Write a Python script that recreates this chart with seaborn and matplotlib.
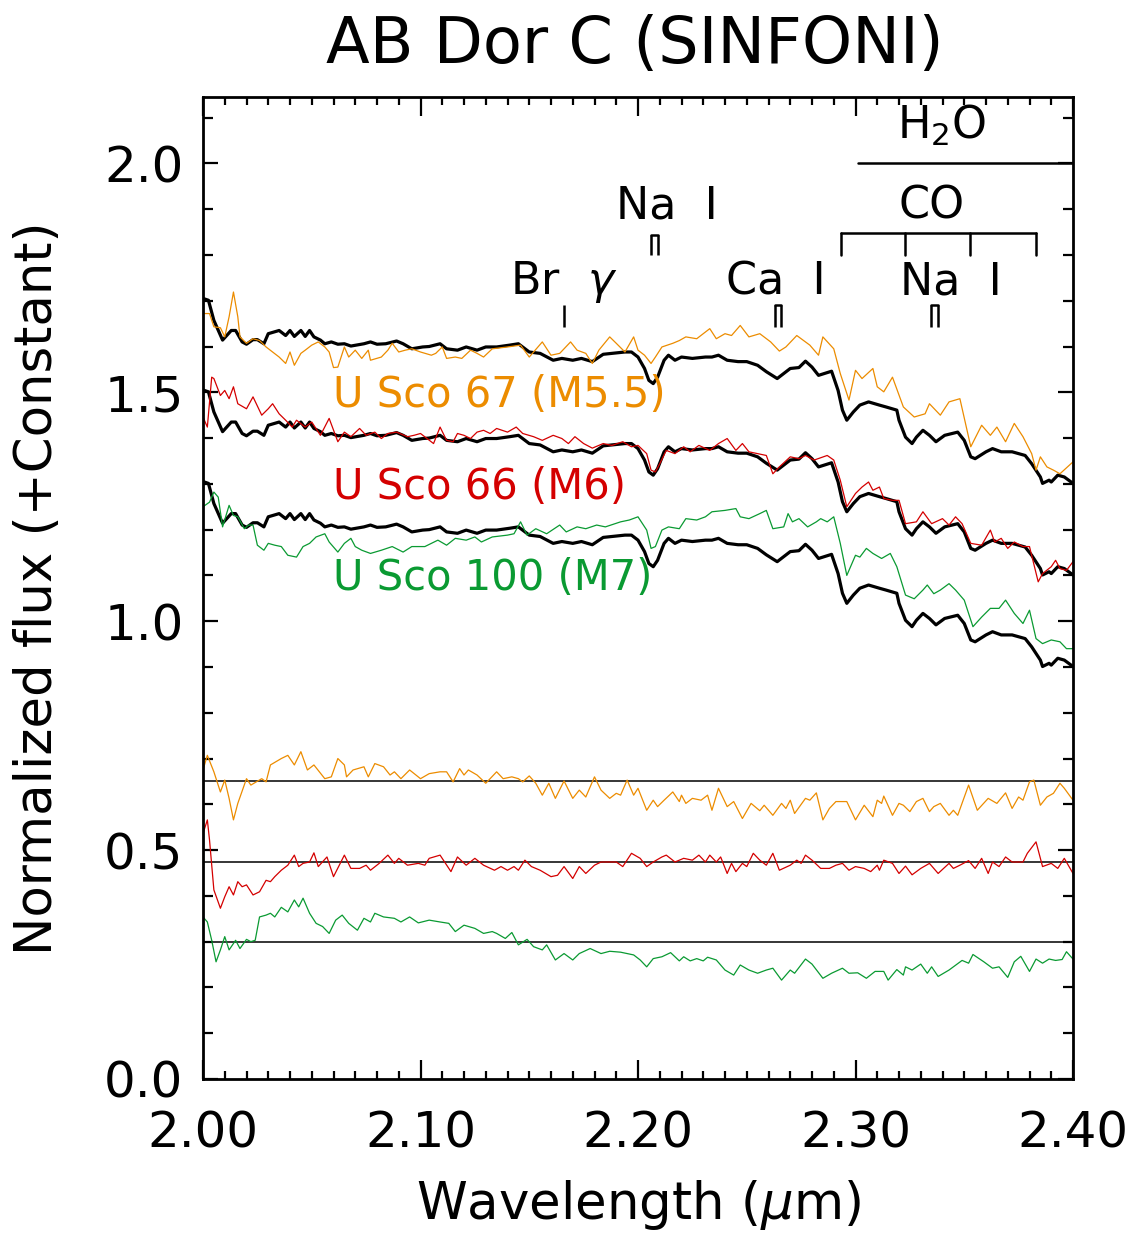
import matplotlib
matplotlib.use("Agg")
import matplotlib.pyplot as plt
from matplotlib.ticker import MultipleLocator, FormatStrFormatter
import seaborn as sns

# AB Dor C spectrum (top copy)
abdor_wl = [2.000, 2.0025, 2.005, 2.009, 2.013, 2.015, 2.018, 2.020, 2.023, 2.025,
            2.028, 2.030, 2.035, 2.038, 2.040, 2.042, 2.045, 2.047, 2.049, 2.051,
            2.054, 2.056, 2.059, 2.062, 2.065, 2.068, 2.074, 2.077, 2.080, 2.084,
            2.089, 2.092, 2.096, 2.101, 2.104, 2.109, 2.112, 2.117, 2.121, 2.126,
            2.130, 2.135, 2.141, 2.145, 2.150, 2.155, 2.161, 2.165, 2.170, 2.174,
            2.179, 2.184, 2.188, 2.194, 2.197, 2.200, 2.203, 2.205, 2.207, 2.209,
            2.212, 2.214, 2.217, 2.220, 2.225, 2.231, 2.234, 2.237, 2.241, 2.246,
            2.250, 2.255, 2.259, 2.264, 2.270, 2.274, 2.277, 2.280, 2.283, 2.289,
            2.292, 2.294, 2.296, 2.299, 2.302, 2.306, 2.311, 2.314, 2.319, 2.320,
            2.323, 2.326, 2.328, 2.331, 2.334, 2.337, 2.341, 2.347, 2.350, 2.353,
            2.355, 2.360, 2.363, 2.367, 2.372, 2.378, 2.381, 2.385, 2.386, 2.389,
            2.390, 2.393, 2.396, 2.400]
abdor_flux = [1.705, 1.701, 1.657, 1.614, 1.635, 1.635, 1.610, 1.605, 1.615, 1.615,
              1.606, 1.628, 1.635, 1.624, 1.635, 1.622, 1.635, 1.622, 1.635, 1.621,
              1.614, 1.606, 1.610, 1.605, 1.606, 1.601, 1.606, 1.610, 1.605, 1.606,
              1.612, 1.606, 1.595, 1.599, 1.600, 1.606, 1.595, 1.592, 1.599, 1.592,
              1.599, 1.599, 1.603, 1.606, 1.588, 1.585, 1.570, 1.574, 1.570, 1.574,
              1.567, 1.583, 1.585, 1.588, 1.588, 1.577, 1.552, 1.526, 1.519, 1.533,
              1.570, 1.581, 1.570, 1.577, 1.574, 1.577, 1.577, 1.581, 1.570, 1.567,
              1.567, 1.559, 1.545, 1.530, 1.552, 1.554, 1.568, 1.555, 1.537, 1.546,
              1.504, 1.461, 1.439, 1.457, 1.472, 1.479, 1.472, 1.468, 1.461, 1.439,
              1.402, 1.388, 1.402, 1.417, 1.406, 1.392, 1.406, 1.413, 1.395, 1.359,
              1.355, 1.370, 1.377, 1.370, 1.370, 1.362, 1.344, 1.315, 1.301, 1.308,
              1.304, 1.319, 1.315, 1.301]
abdor_offsets = [0.0, -0.2, -0.4]

# U Sco 67 (M5.5)
usco67_wl = [2.000, 2.003, 2.005, 2.008, 2.010, 2.012, 2.014, 2.016, 2.017, 2.020,
             2.023, 2.026, 2.029, 2.032, 2.035, 2.038, 2.040, 2.042, 2.045, 2.047,
             2.050, 2.053, 2.056, 2.058, 2.060, 2.062, 2.065, 2.067, 2.070, 2.073,
             2.076, 2.077, 2.082, 2.085, 2.087, 2.090, 2.093, 2.096, 2.100, 2.105,
             2.107, 2.110, 2.112, 2.116, 2.119, 2.123, 2.126, 2.129, 2.133, 2.140,
             2.146, 2.150, 2.156, 2.160, 2.164, 2.169, 2.172, 2.176, 2.179, 2.182,
             2.187, 2.190, 2.194, 2.198, 2.200, 2.203, 2.206, 2.208, 2.211, 2.216,
             2.219, 2.222, 2.227, 2.233, 2.236, 2.240, 2.243, 2.247, 2.251, 2.256,
             2.261, 2.265, 2.268, 2.273, 2.279, 2.283, 2.285, 2.290, 2.293, 2.297,
             2.300, 2.303, 2.308, 2.310, 2.313, 2.317, 2.322, 2.327, 2.332, 2.334,
             2.339, 2.343, 2.348, 2.353, 2.358, 2.362, 2.365, 2.369, 2.373, 2.377,
             2.381, 2.383, 2.385, 2.388, 2.391, 2.394, 2.400]
usco67_flux = [1.672, 1.672, 1.643, 1.641, 1.621, 1.665, 1.719, 1.665, 1.621, 1.607,
               1.617, 1.613, 1.599, 1.588, 1.577, 1.563, 1.588, 1.559, 1.585, 1.592,
               1.603, 1.610, 1.599, 1.588, 1.554, 1.555, 1.599, 1.577, 1.592, 1.574,
               1.592, 1.570, 1.577, 1.592, 1.607, 1.588, 1.592, 1.595, 1.588, 1.581,
               1.585, 1.599, 1.574, 1.577, 1.574, 1.592, 1.585, 1.577, 1.595, 1.599,
               1.603, 1.577, 1.610, 1.581, 1.585, 1.610, 1.592, 1.585, 1.563, 1.592,
               1.621, 1.607, 1.588, 1.621, 1.592, 1.581, 1.563, 1.577, 1.599, 1.607,
               1.613, 1.621, 1.617, 1.639, 1.617, 1.628, 1.624, 1.646, 1.621, 1.628,
               1.610, 1.590, 1.599, 1.624, 1.603, 1.581, 1.621, 1.595, 1.541, 1.483,
               1.548, 1.530, 1.552, 1.512, 1.501, 1.533, 1.468, 1.446, 1.453, 1.475,
               1.450, 1.479, 1.486, 1.381, 1.428, 1.406, 1.424, 1.392, 1.432, 1.403,
               1.366, 1.330, 1.359, 1.337, 1.330, 1.322, 1.348]

# U Sco 66 (M6)
usco66_wl = [2.000, 2.002, 2.004, 2.005, 2.008, 2.010, 2.012, 2.014, 2.016, 2.020,
             2.023, 2.027, 2.030, 2.032, 2.035, 2.038, 2.041, 2.043, 2.047, 2.050,
             2.054, 2.058, 2.062, 2.065, 2.068, 2.072, 2.075, 2.079, 2.082, 2.085,
             2.089, 2.094, 2.097, 2.100, 2.103, 2.106, 2.109, 2.112, 2.115, 2.117,
             2.120, 2.123, 2.126, 2.129, 2.132, 2.135, 2.140, 2.144, 2.147, 2.152,
             2.156, 2.161, 2.165, 2.168, 2.171, 2.175, 2.179, 2.184, 2.188, 2.193,
             2.197, 2.200, 2.204, 2.206, 2.208, 2.210, 2.213, 2.217, 2.221, 2.224,
             2.228, 2.233, 2.237, 2.241, 2.245, 2.248, 2.251, 2.256, 2.259, 2.262,
             2.265, 2.270, 2.274, 2.277, 2.281, 2.287, 2.290, 2.293, 2.296, 2.300,
             2.303, 2.306, 2.308, 2.311, 2.313, 2.317, 2.320, 2.323, 2.328, 2.331,
             2.335, 2.340, 2.343, 2.346, 2.349, 2.353, 2.358, 2.362, 2.364, 2.367,
             2.370, 2.373, 2.377, 2.380, 2.384, 2.386, 2.390, 2.392, 2.394, 2.397,
             2.400]
usco66_flux = [1.446, 1.424, 1.533, 1.530, 1.493, 1.504, 1.486, 1.512, 1.475, 1.464,
               1.490, 1.450, 1.464, 1.475, 1.453, 1.439, 1.424, 1.439, 1.424, 1.435,
               1.406, 1.443, 1.392, 1.413, 1.403, 1.421, 1.406, 1.413, 1.399, 1.410,
               1.413, 1.403, 1.406, 1.410, 1.399, 1.388, 1.424, 1.395, 1.392, 1.410,
               1.406, 1.399, 1.413, 1.417, 1.410, 1.421, 1.413, 1.424, 1.410, 1.403,
               1.395, 1.406, 1.399, 1.388, 1.403, 1.388, 1.378, 1.388, 1.384, 1.392,
               1.381, 1.384, 1.366, 1.330, 1.326, 1.344, 1.373, 1.366, 1.381, 1.370,
               1.384, 1.373, 1.388, 1.399, 1.373, 1.388, 1.370, 1.365, 1.362, 1.322,
               1.337, 1.359, 1.355, 1.362, 1.352, 1.362, 1.352, 1.308, 1.250, 1.279,
               1.293, 1.304, 1.286, 1.293, 1.268, 1.264, 1.264, 1.213, 1.217, 1.239,
               1.213, 1.224, 1.210, 1.228, 1.213, 1.170, 1.166, 1.199, 1.173, 1.181,
               1.159, 1.173, 1.163, 1.163, 1.086, 1.104, 1.119, 1.133, 1.115, 1.111,
               1.130]

# U Sco 100 (M7)
usco100_wl = [2.000, 2.003, 2.005, 2.007, 2.009, 2.012, 2.014, 2.016, 2.019, 2.021,
              2.023, 2.025, 2.028, 2.030, 2.033, 2.036, 2.039, 2.043, 2.046, 2.049,
              2.052, 2.056, 2.058, 2.062, 2.065, 2.068, 2.070, 2.073, 2.077, 2.082,
              2.087, 2.092, 2.096, 2.102, 2.108, 2.112, 2.116, 2.121, 2.125, 2.128,
              2.133, 2.140, 2.143, 2.146, 2.149, 2.153, 2.158, 2.164, 2.167, 2.172,
              2.176, 2.181, 2.185, 2.192, 2.196, 2.200, 2.204, 2.206, 2.208, 2.211,
              2.214, 2.219, 2.222, 2.227, 2.231, 2.234, 2.240, 2.245, 2.247, 2.251,
              2.256, 2.259, 2.262, 2.267, 2.269, 2.271, 2.274, 2.278, 2.282, 2.284,
              2.287, 2.290, 2.293, 2.296, 2.300, 2.302, 2.305, 2.308, 2.312, 2.316,
              2.319, 2.323, 2.327, 2.331, 2.333, 2.336, 2.339, 2.343, 2.346, 2.350,
              2.354, 2.358, 2.362, 2.366, 2.369, 2.373, 2.377, 2.380, 2.383, 2.386,
              2.390, 2.394, 2.397, 2.400]
usco100_flux = [1.250, 1.260, 1.282, 1.271, 1.206, 1.253, 1.231, 1.228, 1.202, 1.210,
                1.210, 1.166, 1.155, 1.170, 1.166, 1.163, 1.144, 1.140, 1.163, 1.170,
                1.184, 1.191, 1.173, 1.151, 1.170, 1.181, 1.163, 1.155, 1.148, 1.155,
                1.163, 1.151, 1.163, 1.163, 1.177, 1.166, 1.181, 1.177, 1.184, 1.173,
                1.184, 1.188, 1.191, 1.217, 1.188, 1.202, 1.191, 1.210, 1.195, 1.206,
                1.202, 1.210, 1.206, 1.217, 1.221, 1.228, 1.199, 1.159, 1.163, 1.199,
                1.206, 1.202, 1.224, 1.221, 1.228, 1.239, 1.242, 1.246, 1.228, 1.224,
                1.235, 1.242, 1.202, 1.206, 1.235, 1.217, 1.224, 1.206, 1.217, 1.224,
                1.217, 1.228, 1.170, 1.100, 1.144, 1.140, 1.159, 1.148, 1.137, 1.148,
                1.119, 1.057, 1.049, 1.068, 1.079, 1.060, 1.068, 1.082, 1.068, 1.046,
                0.988, 1.009, 1.028, 1.028, 1.046, 1.017, 0.995, 1.024, 0.962, 0.951,
                0.959, 0.955, 0.940, 0.940]

# residuals (AB Dor C - template + constant)
resid67_wl = [2.000, 2.002, 2.005, 2.008, 2.010, 2.012, 2.014, 2.016, 2.020, 2.022,
              2.027, 2.029, 2.031, 2.036, 2.039, 2.042, 2.045, 2.048, 2.051, 2.056,
              2.059, 2.062, 2.065, 2.066, 2.069, 2.074, 2.076, 2.079, 2.083, 2.086,
              2.088, 2.091, 2.095, 2.100, 2.104, 2.109, 2.112, 2.115, 2.118, 2.120,
              2.122, 2.126, 2.130, 2.135, 2.138, 2.142, 2.145, 2.147, 2.150, 2.153,
              2.156, 2.159, 2.162, 2.166, 2.170, 2.173, 2.176, 2.180, 2.183, 2.187,
              2.190, 2.192, 2.195, 2.198, 2.200, 2.204, 2.207, 2.209, 2.212, 2.216,
              2.219, 2.220, 2.222, 2.225, 2.229, 2.232, 2.234, 2.237, 2.241, 2.244,
              2.248, 2.252, 2.256, 2.258, 2.262, 2.266, 2.268, 2.270, 2.272, 2.277,
              2.279, 2.282, 2.285, 2.288, 2.291, 2.296, 2.300, 2.304, 2.308, 2.310,
              2.312, 2.313, 2.317, 2.320, 2.322, 2.325, 2.328, 2.331, 2.334, 2.336,
              2.339, 2.343, 2.345, 2.347, 2.352, 2.356, 2.361, 2.365, 2.369, 2.372,
              2.375, 2.377, 2.380, 2.382, 2.385, 2.388, 2.391, 2.394, 2.396, 2.400]
resid67_flux = [0.675, 0.707, 0.671, 0.627, 0.653, 0.613, 0.566, 0.602, 0.656, 0.642,
                0.656, 0.649, 0.686, 0.700, 0.707, 0.686, 0.715, 0.675, 0.686, 0.656,
                0.660, 0.700, 0.686, 0.660, 0.675, 0.682, 0.660, 0.689, 0.682, 0.664,
                0.671, 0.656, 0.675, 0.656, 0.667, 0.671, 0.671, 0.649, 0.678, 0.664,
                0.675, 0.664, 0.646, 0.671, 0.656, 0.660, 0.656, 0.649, 0.662, 0.646,
                0.620, 0.646, 0.613, 0.651, 0.613, 0.631, 0.616, 0.660, 0.631, 0.613,
                0.624, 0.620, 0.653, 0.620, 0.635, 0.587, 0.609, 0.595, 0.609, 0.627,
                0.606, 0.620, 0.602, 0.613, 0.609, 0.620, 0.587, 0.635, 0.595, 0.606,
                0.569, 0.602, 0.586, 0.598, 0.576, 0.602, 0.591, 0.609, 0.580, 0.613,
                0.609, 0.625, 0.566, 0.591, 0.606, 0.606, 0.566, 0.598, 0.573, 0.609,
                0.602, 0.618, 0.576, 0.602, 0.598, 0.584, 0.606, 0.613, 0.584, 0.595,
                0.602, 0.576, 0.587, 0.576, 0.642, 0.587, 0.613, 0.602, 0.625, 0.591,
                0.616, 0.609, 0.649, 0.653, 0.598, 0.616, 0.624, 0.646, 0.635, 0.609]

resid66_wl = [2.000, 2.002, 2.003, 2.005, 2.008, 2.010, 2.012, 2.014, 2.016, 2.018,
              2.020, 2.023, 2.026, 2.029, 2.031, 2.033, 2.036, 2.039, 2.042, 2.044,
              2.046, 2.049, 2.051, 2.053, 2.057, 2.060, 2.065, 2.068, 2.072, 2.075,
              2.077, 2.081, 2.085, 2.088, 2.090, 2.094, 2.099, 2.102, 2.104, 2.109,
              2.114, 2.117, 2.121, 2.125, 2.129, 2.134, 2.137, 2.140, 2.143, 2.145,
              2.148, 2.151, 2.155, 2.160, 2.163, 2.166, 2.170, 2.173, 2.176, 2.180,
              2.183, 2.187, 2.190, 2.193, 2.197, 2.201, 2.204, 2.207, 2.211, 2.213,
              2.217, 2.221, 2.225, 2.228, 2.231, 2.233, 2.236, 2.238, 2.241, 2.243,
              2.245, 2.248, 2.250, 2.253, 2.256, 2.259, 2.262, 2.265, 2.270, 2.273,
              2.275, 2.277, 2.280, 2.284, 2.288, 2.291, 2.294, 2.297, 2.300, 2.304,
              2.307, 2.310, 2.311, 2.313, 2.317, 2.320, 2.323, 2.326, 2.330, 2.334,
              2.338, 2.343, 2.345, 2.348, 2.352, 2.355, 2.358, 2.361, 2.363, 2.366,
              2.369, 2.372, 2.377, 2.379, 2.383, 2.386, 2.390, 2.393, 2.396, 2.400]
resid66_flux = [0.536, 0.566, 0.522, 0.413, 0.373, 0.398, 0.420, 0.402, 0.431, 0.420,
                0.424, 0.402, 0.409, 0.434, 0.431, 0.442, 0.456, 0.467, 0.489, 0.464,
                0.471, 0.474, 0.494, 0.464, 0.485, 0.442, 0.489, 0.460, 0.460, 0.467,
                0.456, 0.471, 0.489, 0.471, 0.482, 0.467, 0.471, 0.467, 0.482, 0.489,
                0.453, 0.485, 0.467, 0.482, 0.467, 0.456, 0.464, 0.456, 0.464, 0.456,
                0.478, 0.464, 0.456, 0.442, 0.445, 0.464, 0.438, 0.464, 0.449, 0.467,
                0.474, 0.474, 0.474, 0.464, 0.493, 0.482, 0.464, 0.474, 0.485, 0.489,
                0.474, 0.482, 0.478, 0.489, 0.474, 0.489, 0.474, 0.485, 0.449, 0.471,
                0.453, 0.471, 0.464, 0.493, 0.478, 0.467, 0.493, 0.456, 0.467, 0.478,
                0.471, 0.489, 0.478, 0.460, 0.460, 0.467, 0.471, 0.456, 0.464, 0.460,
                0.453, 0.467, 0.456, 0.478, 0.471, 0.449, 0.465, 0.446, 0.460, 0.471,
                0.449, 0.471, 0.460, 0.467, 0.477, 0.460, 0.482, 0.449, 0.474, 0.464,
                0.485, 0.474, 0.474, 0.493, 0.518, 0.464, 0.471, 0.460, 0.482, 0.449]

resid100_wl = [2.000, 2.002, 2.004, 2.006, 2.008, 2.010, 2.012, 2.015, 2.017, 2.020,
               2.022, 2.024, 2.026, 2.029, 2.031, 2.033, 2.036, 2.039, 2.042, 2.044,
               2.046, 2.049, 2.052, 2.055, 2.058, 2.061, 2.064, 2.067, 2.071, 2.074,
               2.077, 2.079, 2.083, 2.088, 2.091, 2.095, 2.099, 2.104, 2.109, 2.113,
               2.116, 2.120, 2.125, 2.129, 2.133, 2.135, 2.139, 2.142, 2.145, 2.149,
               2.152, 2.156, 2.158, 2.162, 2.166, 2.170, 2.173, 2.178, 2.183, 2.187,
               2.192, 2.198, 2.201, 2.204, 2.207, 2.211, 2.215, 2.219, 2.221, 2.224,
               2.227, 2.230, 2.232, 2.236, 2.240, 2.244, 2.247, 2.251, 2.255, 2.259,
               2.262, 2.266, 2.270, 2.272, 2.277, 2.280, 2.285, 2.289, 2.294, 2.297,
               2.301, 2.305, 2.309, 2.313, 2.315, 2.319, 2.322, 2.323, 2.326, 2.330,
               2.333, 2.335, 2.338, 2.343, 2.349, 2.352, 2.354, 2.359, 2.363, 2.366,
               2.370, 2.373, 2.376, 2.380, 2.383, 2.386, 2.389, 2.392, 2.395, 2.397,
               2.400]
resid100_flux = [0.354, 0.343, 0.303, 0.256, 0.282, 0.311, 0.282, 0.303, 0.285, 0.305,
                 0.300, 0.303, 0.354, 0.358, 0.362, 0.354, 0.375, 0.365, 0.391, 0.376,
                 0.395, 0.362, 0.340, 0.333, 0.318, 0.347, 0.358, 0.340, 0.325, 0.351,
                 0.343, 0.362, 0.354, 0.351, 0.343, 0.354, 0.341, 0.347, 0.343, 0.340,
                 0.322, 0.336, 0.329, 0.318, 0.322, 0.318, 0.307, 0.320, 0.293, 0.305,
                 0.289, 0.282, 0.293, 0.260, 0.274, 0.260, 0.274, 0.285, 0.274, 0.279,
                 0.277, 0.271, 0.260, 0.245, 0.263, 0.267, 0.276, 0.258, 0.267, 0.258,
                 0.263, 0.258, 0.266, 0.260, 0.238, 0.227, 0.249, 0.238, 0.231, 0.238,
                 0.242, 0.216, 0.238, 0.231, 0.262, 0.251, 0.220, 0.231, 0.242, 0.231,
                 0.232, 0.220, 0.235, 0.235, 0.216, 0.239, 0.227, 0.245, 0.238, 0.251,
                 0.231, 0.245, 0.224, 0.238, 0.259, 0.253, 0.272, 0.256, 0.242, 0.245,
                 0.222, 0.256, 0.268, 0.235, 0.262, 0.253, 0.262, 0.259, 0.261, 0.278,
                 0.262]

resid_levels = [0.65, 0.475, 0.30]

template_names = ["U Sco 67 (M5.5)", "U Sco 66 (M6)", "U Sco 100 (M7)"]
template_colors = ["#EC8C00", "#D40000", "#0A9A32"]
label_y = [1.493, 1.293, 1.094]

FS = 36

sns.set_theme(style="ticks")
plt.rcParams["font.family"] = ["DejaVu Sans"]
plt.rcParams["mathtext.fontset"] = "dejavusans"
plt.rcParams["text.color"] = "black"
plt.rcParams["axes.labelcolor"] = "black"
plt.rcParams["xtick.color"] = "black"
plt.rcParams["ytick.color"] = "black"

fig = plt.figure(figsize=(11.34, 12.34), dpi=100)
ax = fig.add_axes([203 / 1134, 155 / 1234, 870 / 1134, 982 / 1234])

templates = [(usco67_wl, usco67_flux), (usco66_wl, usco66_flux), (usco100_wl, usco100_flux)]
residuals = [(resid67_wl, resid67_flux), (resid66_wl, resid66_flux), (resid100_wl, resid100_flux)]

for off in abdor_offsets:
    sns.lineplot(x=abdor_wl, y=[f + off for f in abdor_flux], ax=ax, color="black",
                 lw=2.3, estimator=None, sort=False, legend=False)

for (wl, fl), col in zip(templates, template_colors):
    sns.lineplot(x=wl, y=fl, ax=ax, color=col, lw=0.9, estimator=None, sort=False,
                 legend=False)

for lev in resid_levels:
    ax.axhline(lev, color="black", lw=1.1)

for (wl, fl), col in zip(residuals, template_colors):
    sns.lineplot(x=wl, y=fl, ax=ax, color=col, lw=0.9, estimator=None, sort=False,
                 legend=False)

for name, col, yy in zip(template_names, template_colors, label_y):
    ax.text(2.0598, yy, name, color=col, fontsize=30, ha="left", va="center")

# line identifications
def mark(ax, wls, y0, y1):
    for w in wls:
        ax.plot([w, w], [y0, y1], color="black", lw=1.8, solid_capstyle="butt")
    if len(wls) > 1:
        ax.plot([wls[0], wls[-1]], [y1, y1], color="black", lw=1.8)

mark(ax, [2.1661], 1.642, 1.690)
mark(ax, [2.2062, 2.2090], 1.799, 1.843)
mark(ax, [2.2631, 2.2657], 1.642, 1.690)
mark(ax, [2.3348, 2.3379], 1.642, 1.690)

co_heads = [2.2935, 2.3227, 2.3525, 2.3830]
ax.plot([co_heads[0], co_heads[-1]], [1.847, 1.847], color="black", lw=1.8)
for w in co_heads:
    ax.plot([w, w], [1.799, 1.847], color="black", lw=1.8)
ax.plot([2.301, 2.40], [2.0, 2.0], color="black", lw=1.8)

ax.text(2.1411, 1.740, r"Br  $\gamma$", fontsize=32, ha="left", va="center")
ax.text(2.1900, 1.908, "Na  I", fontsize=32, ha="left", va="center")
ax.text(2.2405, 1.740, "Ca  I", fontsize=32, ha="left", va="center")
ax.text(2.3205, 1.740, "Na  I", fontsize=32, ha="left", va="center")
ax.text(2.3350, 1.908, "CO", fontsize=32, ha="center", va="center")
ax.text(2.3398, 2.083, r"H$_2$O", fontsize=32, ha="center", va="center")

ax.set_xlim(2.0, 2.4)
ax.set_ylim(0.0, 2.145)
ax.xaxis.set_major_locator(MultipleLocator(0.1))
ax.xaxis.set_minor_locator(MultipleLocator(0.01))
ax.yaxis.set_major_locator(MultipleLocator(0.5))
ax.yaxis.set_minor_locator(MultipleLocator(0.1))
ax.xaxis.set_major_formatter(FormatStrFormatter("%.2f"))
ax.yaxis.set_major_formatter(FormatStrFormatter("%.1f"))
ax.tick_params(which="both", direction="in", top=True, right=True, width=1.6,
               color="black", labelsize=FS, labelcolor="black")
ax.tick_params(axis="x", which="major", length=14, pad=22)
ax.tick_params(axis="x", which="minor", length=6)
ax.tick_params(axis="y", which="major", length=11, pad=14)
ax.tick_params(axis="y", which="minor", length=7)
for sp in ax.spines.values():
    sp.set_linewidth(2.0)
    sp.set_color("black")

ax.set_xlabel(r"Wavelength ($\mu$m)", fontsize=37)
ax.set_ylabel("Normalized flux (+Constant)", fontsize=37)
ax.xaxis.set_label_coords(0.5, -0.128)
ax.xaxis.label.set_va("center")
ax.yaxis.set_label_coords(-0.19, 0.5)
ax.yaxis.label.set_va("center")

fig.text(0.56, 1 - 45 / 1234, "AB Dor C (SINFONI)", fontsize=46, ha="center", va="center")

fig.savefig("out.png", dpi=100)
